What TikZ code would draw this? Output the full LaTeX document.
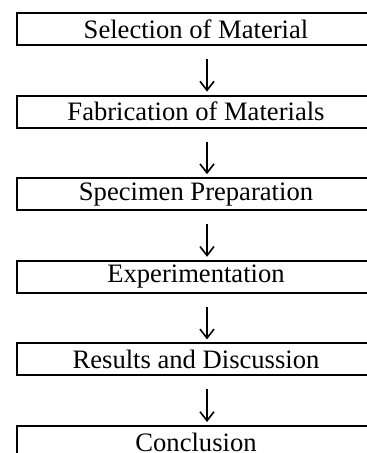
\documentclass[tikz,border=0pt]{standalone}
\usepackage{fontspec}
\setmainfont{Liberation Serif}
\usetikzlibrary{arrows.meta}
\tikzset{
  stagebox/.style={draw, line width=1pt, rectangle, minimum width=179pt,
                   minimum height=16pt, inner sep=0pt, font=\fontsize{13.3}{15}\selectfont},
  flow/.style={line width=0.7pt, -{Straight Barb[length=4.5pt,width=7pt,line width=0.8pt]},
               shorten <=6.5pt, shorten >=1.5pt}
}
\begin{document}
\begin{tikzpicture}[x=0.5pt, y=-0.5pt]
        \useasboundingbox (0,0) rectangle (367,453);                        %
        \node [stagebox] (sel)  at (196,29)    {Selection of Material};     %
        \node [stagebox] (fab)  at (196,111.6) {Fabrication of Materials};  %
        \node [stagebox] (spec) at (196,194.2) {Specimen Preparation};      %
        \node [stagebox] (exp)  at (196,276.8) {Experimentation};           %
        \node [stagebox] (res)  at (196,359.4) {Results and Discussion};    %
        \node [stagebox] (con)  at (196,442)   {Conclusion};                %

        \draw [flow] ([xshift=5.5pt]sel.south)  -- ([xshift=5.5pt]fab.north);  %
        \draw [flow] ([xshift=5.5pt]fab.south)  -- ([xshift=5.5pt]spec.north); %
        \draw [flow] ([xshift=5.5pt]spec.south) -- ([xshift=5.5pt]exp.north);  %
        \draw [flow] ([xshift=5.5pt]exp.south)  -- ([xshift=5.5pt]res.north);  %
        \draw [flow] ([xshift=5.5pt]res.south)  -- ([xshift=5.5pt]con.north);  %
\end{tikzpicture}
\end{document}
